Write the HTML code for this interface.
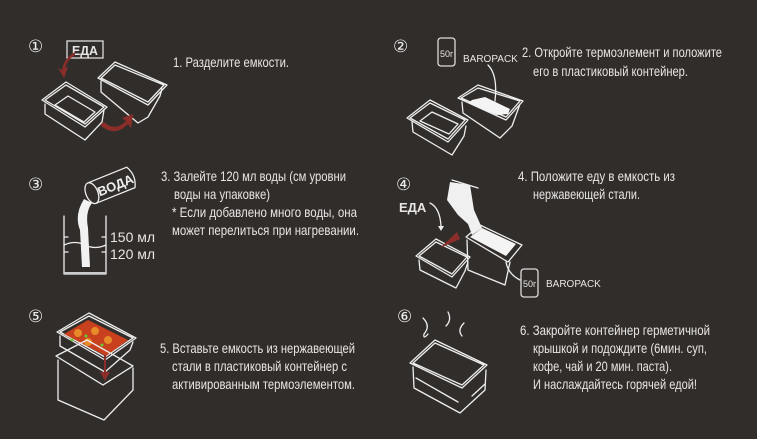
<!DOCTYPE html>
<html><head><meta charset="utf-8"><style>
html,body{margin:0;padding:0;background:#312d2b;}
svg{display:block}
text{font-family:"Liberation Sans Narrow","Liberation Sans",sans-serif;fill:#e8e6e4;font-size:14px}
.n{font-family:"DejaVu Sans",sans-serif;font-size:17px;fill:#eee}
.s{fill:none;stroke:#eee;stroke-width:1.3;stroke-linejoin:round;stroke-linecap:round}
</style></head><body>
<svg width="757" height="439" viewBox="0 0 757 439">
<rect width="757" height="439" fill="#312d2b"/>
<text class="n" x="28" y="52">①</text>
<text class="n" x="393" y="52">②</text>
<text class="n" x="28" y="190">③</text>
<text class="n" x="396" y="190">④</text>
<text class="n" x="28" y="322">⑤</text>
<text class="n" x="397" y="322">⑥</text>

<!-- step 1 -->
<rect x="67" y="41" width="36" height="17" fill="none" stroke="#ddd" stroke-width="1.3"/>
<text x="72" y="55" style="font-weight:bold;font-size:13px" textLength="26" lengthAdjust="spacingAndGlyphs">ЕДА</text>
<path class="s" d="M42,100 L66,82 L107,107 L85,127 Z M45,100 L66,85 L104,107 L85,124 Z M45,104 L45,114 L85,140 L102,122 L104,110 M55,105 L68,96 L95,112 L84,122 Z"/>
<path class="s" d="M98,78 L115,62 L167,85 L148,105 Z M101,78 L115,65 L164,85 L148,102 Z M101,81 L101,92 L138,123 L148,117 L160,96 L162,89"/>
<path d="M75,52 Q64,58 62,70 L58,68 L64,78 L68,67 L65,68 Q67,60 75,55Z" fill="#8b2e2a"/>
<path d="M100,125 Q115,138 128,124 L131,128 L133,114 L122,118 L126,121 Q115,132 104,122Z" fill="#8b2e2a"/>
<text x="173" y="67" textLength="116" lengthAdjust="spacingAndGlyphs">1. Разделите емкости.</text>

<!-- step 2 -->
<rect x="438" y="38" width="17" height="28" rx="3" fill="none" stroke="#ddd" stroke-width="1.3"/>
<text x="440" y="57" style="font-size:9px">50г</text>
<text x="463" y="62" style="font-size:10px">BAROPACK</text>
<path class="s" d="M488,65 Q498,75 495,101"/>
<path class="s" d="M407,118 L430,100 L468,120 L448,142 Z M410,118 L430,103 L465,120 L448,139 Z M412,122 L413,132 L452,155 L464,136 L466,126 M420,121 L432,112 L458,124 L449,134 Z"/>
<path class="s" d="M458,98 L478,85 L523,101 L506,120 Z M461,98 L478,88 L520,101 L506,117 Z M462,102 L463,113 L500,138 L512,126 L520,104"/>
<path d="M472,100 L485,97 L510,109 L508,114 L497,115 L468,103Z" fill="#f4f4f4"/>
<text x="522" y="57" textLength="200" lengthAdjust="spacingAndGlyphs">2. Откройте термоэлемент и положите</text>
<text x="533" y="76" textLength="155" lengthAdjust="spacingAndGlyphs">его в пластиковый контейнер.</text>

<!-- step 3 -->
<path class="s" d="M64,216 L64,274 L106,274 L106,216 M64,237 L68,237 M64,252 L68,252 M102,237 L106,237 M102,252 L106,252 M64,245 Q75,240 85,245 Q95,250 106,245"/>
<path d="M64,272 L106,272 L106,274 L64,274Z" fill="#ccc"/>
<g transform="translate(80,185) rotate(-22)">
<ellipse cx="8" cy="12" rx="6" ry="11" fill="none" stroke="#eee" stroke-width="1.3"/>
<path class="s" d="M8,1 L50,1 Q56,12 50,23 L8,23"/>
<text x="14" y="18" style="font-weight:bold;font-size:13px;fill:#eee">ВОДА</text>
</g>
<path d="M84,199 Q74,215 80,230 L82,267 L90,267 L88,228 Q85,212 92,203Z" fill="#f2f2f2"/>
<text x="110" y="242" style="font-size:14px">150 мл</text>
<text x="110" y="259" style="font-size:14px">120 мл</text>
<text x="161" y="181" textLength="185" lengthAdjust="spacingAndGlyphs">3. Залейте 120 мл воды (см уровни</text>
<text x="174" y="199" textLength="96" lengthAdjust="spacingAndGlyphs">воды на упаковке)</text>
<text x="172" y="217" textLength="185" lengthAdjust="spacingAndGlyphs">* Если добавлено много воды, она</text>
<text x="172" y="235" textLength="187" lengthAdjust="spacingAndGlyphs">может перелиться при нагревании.</text>

<!-- step 4 -->
<text x="399" y="212" style="font-weight:bold;font-size:13px">ЕДА</text>
<path class="s" d="M430,203 Q440,208 441,226"/>
<path d="M438,226 L441,231 L444,226Z" fill="#eee"/>
<path class="s" d="M416,256 L436,239 L470,257 L452,277 Z M419,256 L436,242 L467,257 L452,274 Z M419,260 L420,270 L456,288 L465,271 L468,262"/>
<path class="s" d="M466,237 L480,225 L522,245 L508,262 Z M467,240 L468,270 L505,285 L510,262"/>
<path d="M470,237 L482,228 L516,244 L506,256Z" fill="#f4f4f4"/>
<path d="M450,182 L470,185 L474,210 L482,228 L472,235 L468,224 L458,215 L447,200Z" fill="#f0f0f0"/>
<path class="s" d="M452,180 L478,188"/>
<path d="M440,248 L457,232 L460,239Z" fill="#8b2e2a"/>
<rect x="521" y="269" width="17" height="28" rx="3" fill="none" stroke="#ddd" stroke-width="1.3"/>
<text x="523" y="287" style="font-size:9px">50г</text>
<text x="546" y="287" style="font-size:10px">BAROPACK</text>
<path class="s" d="M506,262 Q508,274 520,280"/>
<text x="518" y="181" textLength="157" lengthAdjust="spacingAndGlyphs">4. Положите еду в емкость из</text>
<text x="533" y="199" textLength="107" lengthAdjust="spacingAndGlyphs">нержавеющей стали.</text>

<!-- step 5 -->
<path class="s" d="M57,332 L89,313 L136,338 L105,360 Z M60,332 L89,316 L133,338 L105,357 Z M60,336 L60,346 L105,372 L130,350 L133,342"/>
<path d="M64,334 L88,320 L128,340 L106,356 Z" fill="#c8401e"/>
<circle cx="78" cy="333" r="4" fill="#e88a2a"/><circle cx="95" cy="331" r="4" fill="#e88a2a"/><circle cx="108" cy="340" r="4" fill="#e88a2a"/><circle cx="88" cy="342" r="4" fill="#e88a2a"/>
<circle cx="72" cy="340" r="1.5" fill="#6c3"/><circle cx="86" cy="336" r="1.5" fill="#6c3"/><circle cx="102" cy="345" r="1.5" fill="#6c3"/>
<path class="s" d="M56,356 L87,340 L133,366 L103,385 Z M58,360 L58,400 L104,420 L133,390 L133,368"/>
<path d="M104,355 L104,372 L100,372 L105,381 L110,372 L106,372 L106,355Z" fill="#8b2e2a"/>
<text x="160" y="353" textLength="195" lengthAdjust="spacingAndGlyphs">5. Вставьте емкость из нержавеющей</text>
<text x="172" y="371" textLength="175" lengthAdjust="spacingAndGlyphs">стали в пластиковый контейнер с</text>
<text x="172" y="389" textLength="183" lengthAdjust="spacingAndGlyphs">активированным термоэлементом.</text>

<!-- step 6 -->
<path class="s" d="M423,318 Q431,326 424,334 Q423,340 428,334 M448,312 Q452,320 446,326 M464,323 Q457,330 462,336"/>
<path class="s" d="M410,363 L435,340 L487,365 L462,388 Z M413,363 L435,343 L484,365 L462,385 Z M413,367 L414,388 L460,413 L485,390 L486,370 M416,378 L458,402 M472,396 L485,384"/>
<text x="520" y="335" textLength="190" lengthAdjust="spacingAndGlyphs">6. Закройте контейнер герметичной</text>
<text x="533" y="353" textLength="174" lengthAdjust="spacingAndGlyphs">крышкой и подождите (6мин. суп,</text>
<text x="533" y="371" textLength="139" lengthAdjust="spacingAndGlyphs">кофе, чай и 20 мин. паста).</text>
<text x="533" y="389" textLength="164" lengthAdjust="spacingAndGlyphs">И наслаждайтесь горячей едой!</text>
</svg>
</body></html>
